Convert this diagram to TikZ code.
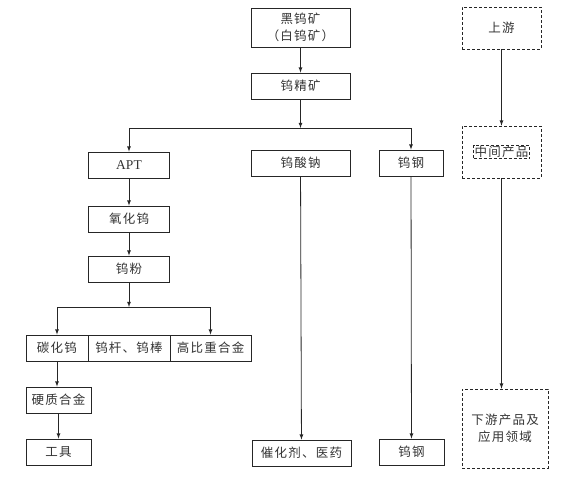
\documentclass[tikz,border=0pt]{standalone}
\usepackage{fontspec}
\newfontfamily\cjk[LetterSpace=10]{Noto Sans CJK SC}
\newfontfamily\lat{Liberation Serif}
\begin{document}
\begin{tikzpicture}[x=1pt, y=-1pt,
        box/.style={draw=black!85, line width=0.8pt, font=\cjk\fontsize{12.5}{17}\selectfont,
            text=black!80, inner sep=0pt, align=center},
        dotbox/.style={box, densely dashed, line width=0.7pt},
        arr/.style={-latex, draw=black!85, line width=0.8pt}]
    \useasboundingbox (0,0) rectangle (566,478);

    % Boxes
    \node[box, minimum width=99, minimum height=39] (ore) at (300.5, 27.5) {黑钨矿\\（白钨矿）};
    \node[box, minimum width=99, minimum height=26] (conc) at (300.5, 86) {钨精矿};
    \node[box, minimum width=81, minimum height=26, font=\lat\fontsize{13.5}{15}\selectfont] (apt) at (129, 165) {APT};
    \node[box, minimum width=99, minimum height=26] (nawo) at (300.5, 163) {钨酸钠};
    \node[box, minimum width=64, minimum height=26] (steel) at (411, 163) {钨钢};
    \node[box, minimum width=81, minimum height=26] (oxide) at (129, 219) {氧化钨};
    \node[box, minimum width=81, minimum height=26] (powder) at (129, 269) {钨粉};
    \node[box, minimum width=62, minimum height=26] (wc) at (57, 348) {碳化钨};
    \node[box, minimum width=82, minimum height=26] (rod) at (129, 348) {钨杆、钨棒};
    \node[box, minimum width=81, minimum height=26] (heavy) at (210.5, 348) {高比重合金};
    \node[box, minimum width=65, minimum height=26] (hard) at (58.5, 400) {硬质合金};
    \node[box, minimum width=65, minimum height=26] (tool) at (58.5, 452) {工具};
    \node[box, minimum width=99, minimum height=26] (cat) at (301.5, 453) {催化剂、医药};
    \node[box, minimum width=65, minimum height=26] (steel2) at (411.5, 452) {钨钢};

    % Chain levels
    \node[dotbox, minimum width=79, minimum height=42] (up) at (501.5, 28) {上游};
    \node[dotbox, minimum width=79, minimum height=52] (mid) at (501.5, 152) {};
    \node[dotbox, inner sep=1pt] (midtext) at (mid.center) {中间产品};
    \node[dotbox, minimum width=86, minimum height=79] (down) at (505, 428.5) {下游产品及\\应用领域};

    % Junctions
    \coordinate (split1) at (300.5, 128);
    \coordinate (split2) at (129, 307);

    % Arrows
    \draw[arr] (ore) -- (conc);
    \draw[arr] (conc) -- (split1);
    \draw[arr] (split1) -| (apt.north);
    \draw[arr] (split1) -| (steel.north);
    \draw[arr] (apt) -- (oxide);
    \draw[arr] (oxide) -- (powder);
    \draw[arr] (powder) -- (split2);
    \draw[arr] (split2) -| (wc.north);
    \draw[arr] (split2) -| (heavy.north);
    \draw[arr] (wc.south) -- (wc.south |- hard.north);
    \draw[arr] (hard) -- (tool);
    \draw[arr] (nawo) -- (cat);
    \draw[arr] (steel) -- (steel2);
    \draw[arr] (up) -- (mid);
    \draw[arr] (mid.south) -- (mid.south |- down.north);
\end{tikzpicture}
\end{document}
